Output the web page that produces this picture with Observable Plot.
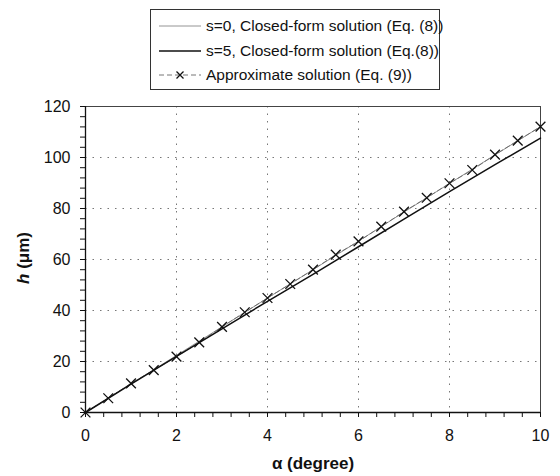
<!DOCTYPE html>
<html>
<head>
<meta charset="utf-8">
<script src="https://cdn.jsdelivr.net/npm/d3@7"></script>
<script src="https://cdn.jsdelivr.net/npm/@observablehq/plot@0.6"></script>
<style>
  body { margin: 0; background: #fff; font-family: "Liberation Sans", Arial, sans-serif; }
  #wrap { position: relative; width: 560px; height: 476px; }
  #legend { position: absolute; left: 150px; top: 9px; width: 290px; height: 81px;
    border: 1px solid #333; background: #fff; box-sizing: border-box; }
  .row { position: absolute; left: 0; height: 24px; display: flex; align-items: center; }
  .row span { font-size: 15.5px; color: #111; margin-left: 5px; white-space: nowrap; }
</style>
</head>
<body>
<div id="wrap"></div>
<script>
// data
const alphaLine = [0, 1, 2, 3, 4, 5, 6, 7, 8, 9, 10];
const hS0 = [0, 11.2, 22.4, 33.6, 44.9, 56.0, 67.2, 78.6, 89.8, 101.0, 112.1];
const hS5 = [0, 11.1, 22.0, 32.8, 43.6, 54.2, 65.0, 75.8, 86.6, 97.2, 107.6];
const alphaApprox = [0, 0.5, 1, 1.5, 2, 2.5, 3, 3.5, 4, 4.5, 5, 5.5, 6, 6.5, 7, 7.5, 8, 8.5, 9, 9.5, 10];
const hApprox = [0, 5.6, 11.4, 16.6, 21.9, 27.5, 33.6, 39.3, 44.9, 50.4, 56.0, 61.9, 67.1, 72.9, 78.8, 84.2, 89.9, 95.1, 101.1, 106.6, 112.1];
const xTicks = [0, 2, 4, 6, 8, 10];
const yTicks = [0, 20, 40, 60, 80, 100, 120];
const xGrid = [2, 4, 6, 8];
const yGrid = [20, 40, 60, 80, 100];
const xMinor = d3.range(0, 10.001, 0.4).map(v => +v.toFixed(2));
const yMinor = d3.range(0, 120.001, 4);
const seriesLabels = ["s=0, Closed-form solution (Eq. (8))", "s=5, Closed-form solution (Eq.(8))", "Approximate solution (Eq. (9))"];

const s0 = alphaLine.map((a, i) => ({a, h: hS0[i]}));
const s5 = alphaLine.map((a, i) => ({a, h: hS5[i]}));
const ap = alphaApprox.map((a, i) => ({a, h: hApprox[i]}));

const chart = Plot.plot({
  width: 560,
  height: 476,
  marginLeft: 85,
  marginRight: 20,
  marginTop: 106,
  marginBottom: 64,
  style: {fontFamily: "Liberation Sans, Arial, sans-serif", fontSize: "16px", color: "#111", background: "#fff"},
  x: {domain: [0, 10]},
  y: {domain: [0, 120]},
  marks: [
    Plot.ruleX(xGrid, {stroke: "#777", strokeDasharray: "1.5,6", strokeWidth: 1}),
    Plot.ruleY(yGrid, {stroke: "#777", strokeDasharray: "1.5,6", strokeWidth: 1}),
    Plot.frame({stroke: "#444", strokeWidth: 1}),
    Plot.axisX(xMinor, {text: null, tickSize: 5, stroke: "#111", label: null}),
    Plot.axisY(yMinor, {text: null, tickSize: 5, stroke: "#111", label: null}),
    Plot.axisX(xTicks, {tickSize: 5, tickPadding: 12, fontSize: 16, label: null, stroke: "#111"}),
    Plot.axisY(yTicks, {tickSize: 5, tickPadding: 10, fontSize: 16, label: null, stroke: "#111"}),
    Plot.ruleX([0], {stroke: "#111", strokeWidth: 1.3}),
    Plot.ruleY([0], {stroke: "#111", strokeWidth: 1.3}),
    Plot.line(s0, {x: "a", y: "h", stroke: "#888", strokeWidth: 0.9}),
    Plot.line(ap, {x: "a", y: "h", stroke: "#666", strokeWidth: 0.9, strokeDasharray: "5,3"}),
    Plot.line(s5, {x: "a", y: "h", stroke: "#111", strokeWidth: 1.5}),
    Plot.dot(ap, {x: "a", y: "h", symbol: "times", r: 4.5, stroke: "#111", strokeWidth: 1.3}),
    Plot.text(["α (degree)"], {frameAnchor: "bottom", dy: 56, fontWeight: "bold", fontSize: 17}),
  ]
});

const wrap = document.getElementById("wrap");
wrap.appendChild(chart);

// y-axis title with bold italic h
const svg = d3.select(chart);
const yt = svg.append("text")
  .attr("transform", "translate(25,258) rotate(-90)")
  .attr("text-anchor", "middle")
  .attr("font-size", 17)
  .attr("font-weight", "bold")
  .attr("fill", "#111")
  .attr("dominant-baseline", "middle");
yt.append("tspan").attr("font-style", "italic").text("h");
yt.append("tspan").text(" (μm)");

// legend
const legend = document.createElement("div");
legend.id = "legend";
const samples = [
  `<line x1="0" y1="8" x2="42" y2="8" stroke="#888" stroke-width="0.9"/>`,
  `<line x1="0" y1="8" x2="42" y2="8" stroke="#111" stroke-width="1.5"/>`,
  `<line x1="0" y1="8" x2="42" y2="8" stroke="#666" stroke-width="0.9" stroke-dasharray="5,3"/>
   <path d="M17.5,4.5L24.5,11.5M17.5,11.5L24.5,4.5" stroke="#111" stroke-width="1.3"/>`
];
const tops = [4, 29, 53];
seriesLabels.forEach((lab, i) => {
  const row = document.createElement("div");
  row.className = "row";
  row.style.top = tops[i] + "px";
  row.style.left = "8px";
  row.innerHTML = `<svg width="42" height="16">${samples[i]}</svg><span>${lab}</span>`;
  legend.appendChild(row);
});
wrap.appendChild(legend);
</script>
</body>
</html>
